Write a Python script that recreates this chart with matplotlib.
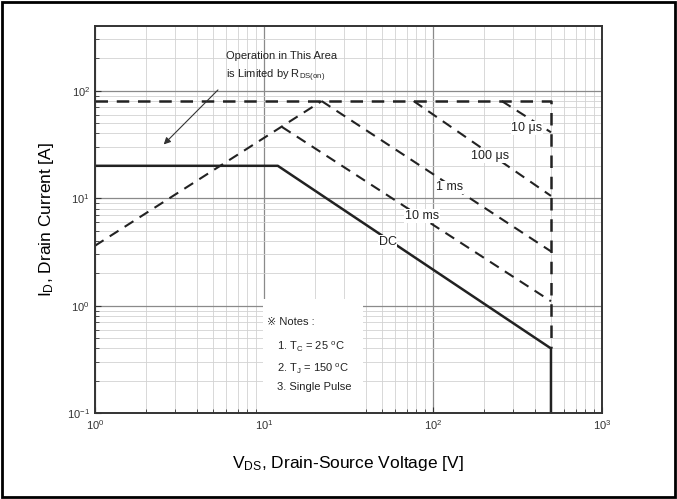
import matplotlib
matplotlib.use('Agg')
from matplotlib import pyplot as plt
from matplotlib.patches import Rectangle

plt.rcParams['font.family'] = ['Liberation Sans', 'DejaVu Sans']
plt.rcParams['mathtext.default'] = 'regular'

# safe operating area boundaries (V, A)
dc_v = [1, 12.1, 500, 500]
dc_i = [20, 20, 0.4, 0.1]
rds_v = [1, 22]
rds_i = [3.6, 80]
limit_v = [1, 500, 500]
limit_i = [80, 80, 0.4]
ms10_v = [12.8, 500]
ms10_i = [46, 1.1]
ms1_v = [22, 500]
ms1_i = [80, 3.2]
us100_v = [77, 500]
us100_i = [80, 10.5]
us10_v = [256, 500]
us10_i = [80, 41]

line_col = '#222222'
dash = (0, (5, 3.5))

fig = plt.figure(figsize=(6.77, 4.99), dpi=100)
fig.patches.append(Rectangle((0.003, 0.004), 0.994, 0.992, transform=fig.transFigure,
                             fill=False, edgecolor='black', linewidth=2))
ax = fig.add_axes([0.140, 0.172, 0.749, 0.776])

ax.set_xscale('log')
ax.set_yscale('log')
ax.set_xlim(1, 1000)
ax.set_ylim(0.1, 400)

ax.set_axisbelow(True)
ax.grid(True, which='major', color='#8a8a8a', linewidth=0.9)
ax.grid(True, which='minor', color='#d2d2d2', linewidth=0.6)
ax.tick_params(which='both', direction='in', labelsize=8, colors='#333333')
ax.tick_params(which='major', length=4)
ax.tick_params(which='minor', length=3)
for s in ax.spines.values():
    s.set_color('#333333')
    s.set_linewidth(1.4)

# notes area covers the grid
ax.add_patch(Rectangle((9.9, 0.1), 38.5 - 9.9, 1.16 - 0.1, facecolor='white',
                       edgecolor='none', zorder=1))

ax.plot(dc_v, dc_i, color=line_col, linewidth=1.8)
ax.plot(limit_v, limit_i, color=line_col, linewidth=1.8, linestyle=dash)
ax.plot(rds_v, rds_i, color=line_col, linewidth=1.5, linestyle=dash)
ax.plot(ms10_v, ms10_i, color=line_col, linewidth=1.5, linestyle=dash)
ax.plot(ms1_v, ms1_i, color=line_col, linewidth=1.5, linestyle=dash)
ax.plot(us100_v, us100_i, color=line_col, linewidth=1.5, linestyle=dash)
ax.plot(us10_v, us10_i, color=line_col, linewidth=1.5, linestyle=dash)

lbl = dict(fontsize=9, ha='center', va='center', color='#222222', zorder=3,
           bbox=dict(facecolor='white', edgecolor='none', pad=0.5))
ax.text(360, 45, '10 μs', **lbl)
ax.text(217, 24.5, '100 μs', **lbl)
ax.text(126, 12.6, '1 ms', **lbl)
ax.text(86, 6.8, '10 ms', **lbl)
ax.text(54, 3.9, 'DC', **lbl)

ax.text(6.0, 211, 'Operation in This Area', fontsize=8, ha='left', va='center', color='#222222')
ax.text(6.0, 138, r'is Limited by R$_{DS(on)}$', fontsize=8, ha='left', va='center', color='#222222')
ax.annotate('', xy=(2.49, 30.3), xytext=(5.5, 106),
            arrowprops=dict(arrowstyle='-|>', color='#333333', linewidth=0.8,
                            mutation_scale=10))

nt = dict(fontsize=8, ha='left', va='center', color='#222222', zorder=3)
ax.text(10.4, 0.71, '※ Notes :', **nt)
ax.text(11.9, 0.41, r'1. T$_C$ = 25 $^o$C', **nt)
ax.text(11.9, 0.26, r'2. T$_J$ = 150 $^o$C', **nt)
ax.text(11.9, 0.174, '3. Single Pulse', **nt)

ax.set_xlabel(r'V$_{DS}$, Drain-Source Voltage [V]', fontsize=12.5, labelpad=16)
ax.set_ylabel(r'I$_D$, Drain Current [A]', fontsize=12.5, labelpad=8)

plt.savefig('out.png', dpi=100)
